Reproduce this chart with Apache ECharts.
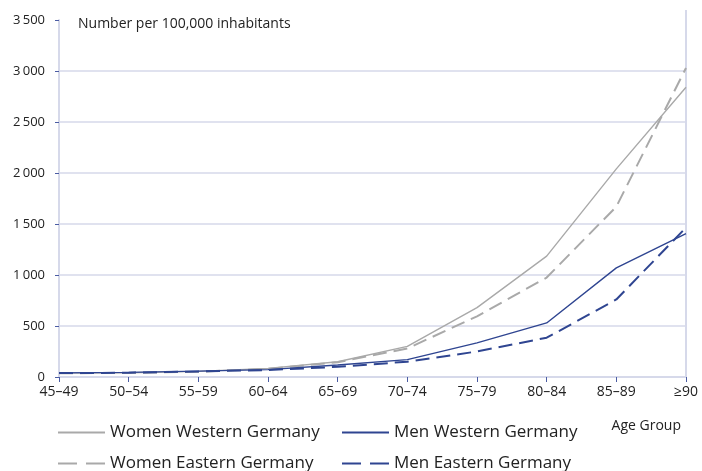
<!DOCTYPE html>
<html>
<head>
<meta charset="utf-8">
<script src="https://cdn.jsdelivr.net/npm/echarts@6/dist/echarts.min.js"></script>
<style>
html,body{margin:0;padding:0;background:#fff;}
#chart{width:702px;height:471px;}
</style>
</head>
<body>
<div id="chart"></div>
<script>
var categories = ['45–49','50–54','55–59','60–64','65–69','70–74','75–79','80–84','85–89','≥90'];
var womenWest = [38, 42, 55, 85, 150, 300, 680, 1185, 2040, 2840];
var womenEast = [36, 40, 52, 80, 145, 280, 595, 975, 1670, 3030];
var menWest   = [40, 45, 58, 72, 118, 170, 335, 530, 1070, 1405];
var menEast   = [38, 42, 55, 68, 100, 150, 250, 385, 760, 1465];
var seriesNames = ['Women Western Germany','Women Eastern Germany','Men Western Germany','Men Eastern Germany'];

var FONT = 'Open Sans';
var GRAY = '#a9a9a9';
var BLUE = '#2f4591';
var AXIS = '#d6d9ea';
var TICK = '#4b5ca3';

var chart = echarts.init(document.getElementById('chart'), null, {renderer:'canvas'});

function fmt(v){
  var s = String(v);
  if (s.length > 3) s = s.slice(0, s.length-3) + '\u2009' + s.slice(-3);
  return s;
}

function mk(name, data, color, dashed){
  return {
    name: name, type: 'line', data: data, symbol: 'none', smooth: false,
    lineStyle: {color: color, width: dashed ? 2 : 1.4, type: dashed ? [14, 7] : 'solid'},
    itemStyle: {color: color},
    emphasis: {disabled: true}, animation: false
  };
}

function lg(name, left, top, dashed){
  var o = {
    data: [name], left: left, top: top, orient: 'horizontal',
    itemWidth: 47, itemHeight: 14, itemGap: 0,
    itemStyle: {opacity: 0},
    textStyle: {fontFamily: FONT, fontSize: 17, color: '#222'},
    selectedMode: false
  };
  if (dashed) o.lineStyle = {type: [19, 9]};
  return o;
}

var option = {
  animation: false,
  title: [
    {text: 'Number per 100,000 inhabitants', left: 73, top: 12,
     textStyle: {fontFamily: FONT, fontSize: 14, fontWeight: 'normal', color: '#222'}},
    {text: 'Age Group', right: 16, top: 414,
     textStyle: {fontFamily: FONT, fontSize: 14, fontWeight: 'normal', color: '#222'}}
  ],
  grid: {left: 59, right: 16, top: 20, bottom: 94, containLabel: false},
  legend: [
    lg(seriesNames[0], 52, 419, false),
    lg(seriesNames[1], 52, 450, true),
    lg(seriesNames[2], 336, 419, false),
    lg(seriesNames[3], 336, 450, true)
  ],
  xAxis: {
    type: 'category', data: categories, boundaryGap: false,
    axisLine: {lineStyle: {color: AXIS, width: 2}},
    axisTick: {show: true, alignWithLabel: true, interval: 0, length: 5, lineStyle: {color: TICK}},
    axisLabel: {interval: 0, margin: 8, fontFamily: FONT, fontSize: 14, color: '#222'},
    splitLine: {show: false}
  },
  yAxis: {
    type: 'value', min: 0, max: 3500, interval: 500,
    axisLine: {show: true, lineStyle: {color: AXIS, width: 2}},
    axisTick: {show: true, length: 4, lineStyle: {color: TICK}},
    axisLabel: {margin: 14, fontFamily: FONT, fontSize: 13, color: '#222', formatter: fmt},
    splitLine: {show: true, lineStyle: {color: [AXIS, AXIS, AXIS, AXIS, AXIS, AXIS, AXIS, 'rgba(0,0,0,0)'], width: 1.5}}
  },
  series: [
    mk(seriesNames[0], womenWest, GRAY, false),
    mk(seriesNames[1], womenEast, GRAY, true),
    mk(seriesNames[2], menWest, BLUE, false),
    mk(seriesNames[3], menEast, BLUE, true)
  ]
};
chart.setOption(option);

// right border line of the plot (decoration), placed via the axis scale
var xr = chart.convertToPixel({xAxisIndex: 0}, categories[categories.length-1]);
var yb = chart.convertToPixel({yAxisIndex: 0}, 0);
var yt = chart.convertToPixel({yAxisIndex: 0}, 3500);
chart.setOption({graphic: [{type: 'line', shape: {x1: xr, y1: yt - 10, x2: xr, y2: yb}, style: {stroke: AXIS, lineWidth: 2}, z: 0, silent: true}]});
</script>
</body>
</html>
